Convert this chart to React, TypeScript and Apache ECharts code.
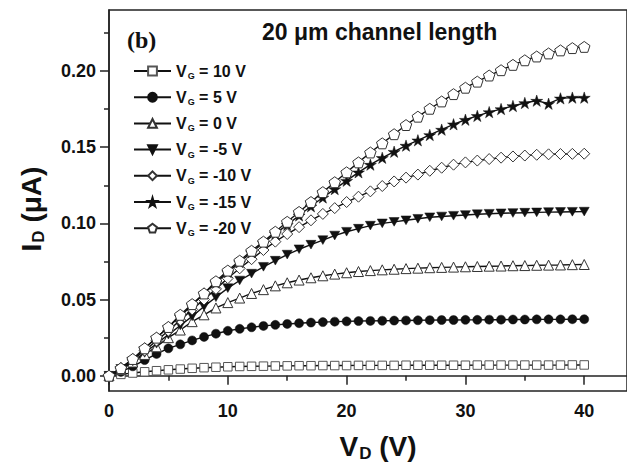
import React, { useEffect, useRef } from "react";
import * as echarts from "echarts";

// Drain voltage V_D (V)
const vd = [0, 1, 2, 3, 4, 5, 6, 7, 8, 9, 10, 11, 12, 13, 14, 15, 16, 17, 18, 19, 20, 21, 22, 23, 24, 25, 26, 27, 28, 29, 30, 31, 32, 33, 34, 35, 36, 37, 38, 39, 40];

// Drain current I_D (µA) for each gate voltage
const vg10 = [0, 0.0009, 0.0018, 0.0026, 0.0033, 0.0039, 0.0044, 0.0049, 0.0053, 0.0056, 0.0059, 0.0061, 0.0062, 0.0063, 0.0064, 0.0065, 0.0066, 0.0066, 0.0067, 0.0067, 0.0067, 0.0068, 0.0068, 0.0068, 0.0068, 0.0069, 0.0069, 0.0069, 0.0069, 0.0069, 0.0069, 0.007, 0.007, 0.007, 0.007, 0.007, 0.007, 0.007, 0.007, 0.0071, 0.0071];
const vg5 = [0, 0.0025, 0.0062, 0.0103, 0.0143, 0.018, 0.0206, 0.0232, 0.0255, 0.0276, 0.0295, 0.0308, 0.0318, 0.0327, 0.0334, 0.034, 0.0345, 0.0349, 0.0352, 0.0355, 0.0357, 0.0359, 0.036, 0.0361, 0.0362, 0.0363, 0.0364, 0.0365, 0.0366, 0.0366, 0.0367, 0.0367, 0.0368, 0.0368, 0.0369, 0.0369, 0.037, 0.037, 0.037, 0.0371, 0.0371];
const vg0 = [0, 0.004, 0.009, 0.014, 0.019, 0.025, 0.03, 0.0355, 0.04, 0.0445, 0.048, 0.051, 0.054, 0.0565, 0.059, 0.061, 0.0628, 0.0643, 0.0656, 0.0667, 0.0676, 0.0684, 0.069, 0.0695, 0.0699, 0.0703, 0.0706, 0.0709, 0.0711, 0.0713, 0.0715, 0.0717, 0.0719, 0.072, 0.0722, 0.0723, 0.0725, 0.0726, 0.0727, 0.0729, 0.073];
const vgm5 = [0, 0.0045, 0.0095, 0.015, 0.021, 0.027, 0.033, 0.039, 0.0455, 0.0515, 0.0575, 0.0625, 0.067, 0.0715, 0.0755, 0.0795, 0.083, 0.086, 0.089, 0.092, 0.0945, 0.0965, 0.0985, 0.1, 0.101, 0.102, 0.103, 0.104, 0.1045, 0.105, 0.1055, 0.106, 0.1063, 0.1066, 0.1068, 0.107, 0.1072, 0.1074, 0.1075, 0.1076, 0.1077];
const vgm10 = [0, 0.005, 0.0105, 0.0165, 0.023, 0.0295, 0.0365, 0.0435, 0.05, 0.057, 0.064, 0.0705, 0.0765, 0.0825, 0.088, 0.093, 0.0975, 0.102, 0.1062, 0.11, 0.114, 0.1175, 0.121, 0.1245, 0.1275, 0.13, 0.132, 0.1345, 0.1365, 0.1385, 0.14, 0.1412, 0.1422, 0.1431, 0.1439, 0.1445, 0.145, 0.1453, 0.1455, 0.1456, 0.1457];
const vgm15 = [0, 0.005, 0.011, 0.018, 0.025, 0.032, 0.039, 0.0465, 0.054, 0.061, 0.068, 0.0745, 0.081, 0.0872, 0.0933, 0.099, 0.1052, 0.1112, 0.117, 0.1225, 0.128, 0.1335, 0.1385, 0.143, 0.147, 0.151, 0.1545, 0.158, 0.1615, 0.165, 0.168, 0.1705, 0.173, 0.175, 0.177, 0.179, 0.1805, 0.1785, 0.182, 0.1825, 0.1825];
const vgm20 = [0, 0.005, 0.011, 0.018, 0.025, 0.032, 0.04, 0.047, 0.054, 0.062, 0.069, 0.0755, 0.082, 0.088, 0.0945, 0.101, 0.1075, 0.114, 0.1205, 0.127, 0.1335, 0.14, 0.1465, 0.1525, 0.1585, 0.1645, 0.17, 0.1752, 0.18, 0.1848, 0.189, 0.193, 0.197, 0.2005, 0.204, 0.207, 0.2095, 0.2115, 0.2135, 0.215, 0.2158];

const gateLabels = ["10", "5", "0", "-5", "-10", "-15", "-20"];
const xMajorTicks = [0, 10, 20, 30, 40];
const xMinorTicks = [5, 15, 25, 35];
const yMajorTicks = [0, 0.05, 0.1, 0.15, 0.2];
const yMinorTicks = [0.025, 0.075, 0.125, 0.175, 0.225];

const FONT = '"Liberation Sans", Arial, sans-serif';
const STAR = "path://M50,0 L61,35 L98,35 L68,57 L79,91 L50,70 L21,91 L32,57 L2,35 L39,35 Z";
const PENT = "path://M50,0 L98,35 L79,91 L21,91 L2,35 Z";
const DTRI = "path://M0,0 L100,0 L50,87 Z";

export default function App() {
  const ref = useRef<HTMLDivElement>(null);
  useEffect(() => {
    if (!ref.current) return;
    const chart = echarts.init(ref.current, null, { renderer: "svg" });
    const seriesData = [vg10, vg5, vg0, vgm5, vgm10, vgm15, vgm20];
    const symbols = ["rect", "circle", "triangle", DTRI, "diamond", STAR, PENT];
    const sizes = [8.5, 9, 10, 10, 11, 12, 11.5];
    const filled = [false, true, false, true, false, true, false];
    const series = seriesData.map((arr, k) => ({
      name: gateLabels[k],
      type: "line",
      data: vd.map((v, i) => [v, arr[i]]),
      symbol: symbols[k],
      symbolSize: sizes[k],
      symbolKeepAspect: true,
      showAllSymbol: true,
      lineStyle: { color: "#111", width: 1.4 },
      itemStyle: filled[k]
        ? { color: "#111", borderColor: "#111", borderWidth: 0.5 }
        : { color: "#fff", borderColor: k === 0 ? "#555" : "#333", borderWidth: 1 },
      emphasis: { disabled: true },
      z: 2 + k,
    }));
    const axisLineStyle = { color: "#222", width: 1.5 };
    chart.setOption({
      animation: false,
      backgroundColor: "#fff",
      grid: { left: 109, top: 10, right: -3, bottom: 76, show: true, borderColor: "#222", borderWidth: 1.5 },
      xAxis: [
        {
          type: "value", min: 0, max: 43.6, position: "bottom",
          axisLine: { show: true, lineStyle: axisLineStyle },
          axisTick: { show: true, inside: false, length: 9, lineStyle: axisLineStyle, customValues: xMajorTicks },
          axisLabel: { customValues: xMajorTicks, fontFamily: FONT, fontWeight: "bold", fontSize: 18, color: "#111", margin: 11 },
          splitLine: { show: false },
        },
        {
          type: "value", min: 0, max: 43.6, position: "bottom",
          axisLine: { show: false },
          axisTick: { show: true, inside: false, length: 5, lineStyle: axisLineStyle, customValues: xMinorTicks },
          axisLabel: { show: false },
          splitLine: { show: false },
        },
      ],
      yAxis: [
        {
          type: "value", min: -0.01, max: 0.24, position: "left",
          axisLine: { show: true, lineStyle: axisLineStyle },
          axisTick: { show: true, inside: false, length: 9, lineStyle: axisLineStyle, customValues: yMajorTicks },
          axisLabel: { customValues: yMajorTicks, formatter: (v: number) => v.toFixed(2), fontFamily: FONT, fontWeight: "bold", fontSize: 18, color: "#111", margin: 13 },
          splitLine: { show: false },
        },
        {
          type: "value", min: -0.01, max: 0.24, position: "left",
          axisLine: { show: false },
          axisTick: { show: true, inside: false, length: 5, lineStyle: axisLineStyle, customValues: yMinorTicks },
          axisLabel: { show: false },
          splitLine: { show: false },
        },
      ],
      legend: {
        orient: "vertical", left: 128, top: 58,
        itemWidth: 37, itemHeight: 11, itemGap: 8.7,
        selectedMode: false,
        data: gateLabels,
        formatter: (n: string) => `{a|V}{s|G}{a| = ${n} V}`,
        textStyle: {
          color: "#111",
          rich: {
            a: { fontFamily: FONT, fontWeight: "bold", fontSize: 16, color: "#111" },
            s: { fontFamily: FONT, fontWeight: "bold", fontSize: 9, color: "#111", padding: [10, 0, 0, 1] },
          },
        },
      },
      graphic: [
        { type: "text", x: 127, y: 28, style: { text: "(b)", font: 'bold 24px "Liberation Serif", "Times New Roman", serif', fill: "#111" } },
        { type: "text", x: 262, y: 20, style: { text: "20 μm channel length", font: `bold 23px ${FONT}`, fill: "#111" } },
        {
          type: "text", x: 378, y: 446,
          style: {
            text: "{a|V}{s|D}{a| (V)}", align: "center", verticalAlign: "middle",
            rich: {
              a: { font: `bold 28px ${FONT}`, fill: "#111" },
              s: { font: `bold 17px ${FONT}`, fill: "#111", padding: [14, 0, 0, 1] },
            },
          },
        },
        {
          type: "text", x: 31, y: 209, rotation: Math.PI / 2,
          style: {
            text: "{a|I}{s|D}{a| (μA)}", align: "center", verticalAlign: "middle",
            rich: {
              a: { font: `bold 28px ${FONT}`, fill: "#111" },
              s: { font: `bold 17px ${FONT}`, fill: "#111", padding: [14, 0, 0, 1] },
            },
          },
        },
      ],
      series,
    });
    return () => chart.dispose();
  }, []);
  return <div ref={ref} style={{ position: "absolute", left: 0, top: 0, width: 627, height: 467 }} />;
}
